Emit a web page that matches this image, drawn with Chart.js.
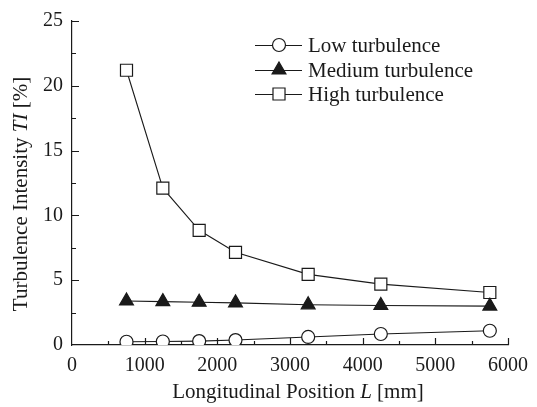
<!DOCTYPE html>
<html>
<head>
<meta charset="utf-8">
<script src="https://cdn.jsdelivr.net/npm/chart.js@4/dist/chart.umd.min.js"></script>
<style>
  html, body { margin: 0; padding: 0; background: #fff; }
  canvas { display: block; }
</style>
</head>
<body>
<canvas id="tiChart" width="537" height="407"></canvas>
<script>
// measurement stations along the channel (mm)
const positions = [750, 1250, 1750, 2250, 3250, 4250, 5750];
// turbulence intensity TI (%) per grid configuration
const lowTI = [0.25, 0.27, 0.3, 0.38, 0.62, 0.85, 1.1];
const mediumTI = [3.4, 3.35, 3.3, 3.25, 3.1, 3.05, 3.0];
const highTI = [21.2, 12.1, 8.85, 7.15, 5.45, 4.7, 4.05];
const seriesNames = ['Low turbulence', 'Medium turbulence', 'High turbulence'];
const xTicks = [0, 1000, 2000, 3000, 4000, 5000, 6000];
const yTicks = [0, 5, 10, 15, 20, 25];

const SERIF = "'Liberation Serif', 'Times New Roman', serif";
const INK = '#1a1a1a';

function toPoints(ys) {
    return ys.map((y, i) => ({ x: positions[i], y: y }));
}

function series(label, ys, style, fill, radius) {
    return {
        label: label,
        data: toPoints(ys),
        showLine: true,
        borderColor: INK,
        borderWidth: 1.1,
        pointStyle: style,
        pointRadius: radius,
        pointBorderWidth: 1.2,
        pointBorderColor: INK,
        pointBackgroundColor: fill
    };
}

// inward major/minor ticks like the original plotting package
const innerTicks = {
    id: 'innerTicks',
    afterDraw(chart) {
        const { ctx, chartArea: a, scales: { x, y } } = chart;
        ctx.save();
        ctx.strokeStyle = INK;
        ctx.lineWidth = 1.2;
        ctx.beginPath();
        for (let v = 500; v <= 6000; v += 500) {
            const px = Math.round(x.getPixelForValue(v)) + 0.5;
            const len = v % 1000 === 0 ? 7 : 4;
            ctx.moveTo(px, a.bottom);
            ctx.lineTo(px, a.bottom - len);
        }
        for (let v = 2.5; v <= 25; v += 2.5) {
            const py = Math.round(y.getPixelForValue(v)) + 0.5;
            const len = v % 5 === 0 ? 7 : 4;
            ctx.moveTo(a.left, py);
            ctx.lineTo(a.left + len, py);
        }
        ctx.stroke();
        ctx.restore();
    }
};

// draw a run of plain/italic pieces, centred on (0,0) of the current transform
function drawMixed(ctx, parts, size, baseline) {
    const widths = parts.map(p => {
        ctx.font = (p.i ? 'italic ' : '') + size + 'px ' + SERIF;
        return ctx.measureText(p.t).width;
    });
    const total = widths.reduce((s, w) => s + w, 0);
    let cx = -total / 2;
    parts.forEach((p, k) => {
        ctx.font = (p.i ? 'italic ' : '') + size + 'px ' + SERIF;
        ctx.fillText(p.t, cx, baseline);
        cx += widths[k];
    });
}

const axisTitles = {
    id: 'axisTitles',
    afterDraw(chart) {
        const { ctx } = chart;
        ctx.save();
        ctx.fillStyle = INK;
        ctx.textAlign = 'left';
        ctx.textBaseline = 'alphabetic';
        ctx.translate(298, 398);
        drawMixed(ctx, [
            { t: 'Longitudinal Position ' },
            { t: 'L', i: true },
            { t: ' [mm]' }
        ], 21, 0);
        ctx.restore();

        ctx.save();
        ctx.fillStyle = INK;
        ctx.textAlign = 'left';
        ctx.textBaseline = 'alphabetic';
        ctx.translate(27, 194);
        ctx.rotate(-Math.PI / 2);
        drawMixed(ctx, [
            { t: 'Turbulence Intensity ' },
            { t: 'TI', i: true },
            { t: ' [%]' }
        ], 21, 0);
        ctx.restore();
    }
};

// legend with a line running through each marker
const lineLegend = {
    id: 'lineLegend',
    afterDraw(chart) {
        const { ctx } = chart;
        const rows = [45, 70, 94];
        ctx.save();
        chart.data.datasets.forEach((ds, i) => {
            const yy = rows[i];
            ctx.strokeStyle = INK;
            ctx.lineWidth = 1.1;
            ctx.beginPath();
            ctx.moveTo(255, yy + 0.5);
            ctx.lineTo(302, yy + 0.5);
            ctx.stroke();
            const opts = {
                pointStyle: ds.pointStyle,
                radius: ds.pointRadius,
                borderWidth: ds.pointBorderWidth,
                rotation: 0
            };
            ctx.fillStyle = ds.pointBackgroundColor;
            ctx.strokeStyle = ds.pointBorderColor;
            ctx.lineWidth = ds.pointBorderWidth;
            Chart.helpers.drawPoint(ctx, opts, 279, yy);
            ctx.fillStyle = INK;
            ctx.font = '21px ' + SERIF;
            ctx.textAlign = 'left';
            ctx.textBaseline = 'middle';
            ctx.fillText(ds.label, 308, yy + 1);
        });
        ctx.restore();
    }
};

new Chart(document.getElementById('tiChart'), {
    type: 'scatter',
    data: {
        datasets: [
            series(seriesNames[0], lowTI, 'circle', '#fff', 6.5),
            series(seriesNames[1], mediumTI, 'triangle', INK, 8),
            series(seriesNames[2], highTI, 'rect', '#fff', 8.5)
        ]
    },
    options: {
        responsive: false,
        animation: false,
        layout: { padding: { top: 19, right: 20, left: 0, bottom: 0 } },
        plugins: {
            legend: { display: false },
            tooltip: { enabled: false }
        },
        scales: {
            x: {
                type: 'linear',
                min: 0,
                max: 6000,
                grid: { display: false, drawTicks: false },
                border: { display: true, color: INK, width: 1.2 },
                afterBuildTicks: s => { s.ticks = xTicks.map(v => ({ value: v })); },
                afterFit: s => { s.height = 62; },
                ticks: {
                    color: INK,
                    padding: 9,
                    font: { family: SERIF, size: 20 },
                    maxRotation: 0,
                    callback: v => String(v)
                }
            },
            y: {
                min: 0,
                max: 25,
                grid: { display: false, drawTicks: false },
                border: { display: true, color: INK, width: 1.2 },
                afterBuildTicks: s => { s.ticks = yTicks.map(v => ({ value: v })); },
                afterFit: s => { s.width = 72; },
                ticks: {
                    color: INK,
                    padding: 9,
                    font: { family: SERIF, size: 20 },
                    callback: v => String(v)
                }
            }
        }
    },
    plugins: [innerTicks, axisTitles, lineLegend]
});
</script>
</body>
</html>
